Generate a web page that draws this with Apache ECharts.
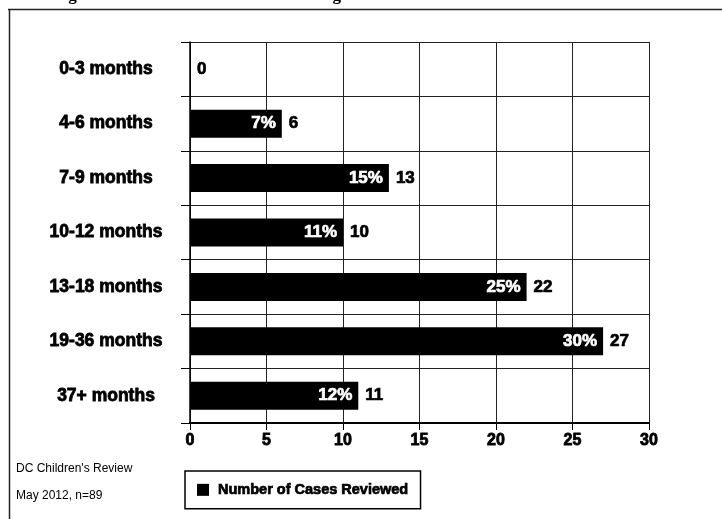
<!DOCTYPE html>
<html lang="en" style="height: 100%">
<head>
  <meta charset="utf-8">
</head>
<body style="height: 100%; margin: 0; background: #fff">
  <div id="container" style="width: 722px; height: 519px"></div>

  <script type="text/javascript" src="https://cdn.jsdelivr.net/npm/echarts@6/dist/echarts.min.js"></script>
  <script type="text/javascript">
    // data
    var categories = ['0-3 months', '4-6 months', '7-9 months', '10-12 months', '13-18 months', '19-36 months', '37+ months'];
    var cases = [0, 6, 13, 10, 22, 27, 11];
    var percents = ['', '7%', '15%', '11%', '25%', '30%', '12%'];
    var xTicks = [0, 5, 10, 15, 20, 25, 30];

    var dom = document.getElementById('container');
    var myChart = echarts.init(dom, null, { renderer: 'canvas' });

    var boldFont = 'Liberation Sans';

    var option = {
      backgroundColor: '#fff',
      animation: false,
      grid: { left: 190, right: 73, top: 42, bottom: 96 },
      legend: {
        data: ['Number of Cases Reviewed'],
        left: 185, top: 471,
        padding: [11, 12, 11, 12],
        itemWidth: 12, itemHeight: 12, itemGap: 10,
        icon: 'rect',
        borderColor: '#000', borderWidth: 1.5,
        textStyle: {
          fontFamily: boldFont, fontWeight: 'bold', fontSize: 14.5, color: '#000',
          textBorderColor: '#000', textBorderWidth: 0.7, padding: [0, 0, 0, 4]
        }
      },
      xAxis: {
        type: 'value',
        min: xTicks[0], max: xTicks[xTicks.length - 1], interval: 5,
        axisLine: { show: true, lineStyle: { color: '#000', width: 2 } },
        axisTick: { show: true, length: 7, lineStyle: { color: '#000' } },
        axisLabel: {
          fontFamily: boldFont, fontWeight: 'bold', fontSize: 16, color: '#000', margin: 10,
          textBorderColor: '#000', textBorderWidth: 0.8
        },
        splitLine: { show: true, lineStyle: { color: '#222', width: 1 } }
      },
      yAxis: {
        type: 'category',
        data: categories,
        inverse: true,
        axisLine: { show: true, lineStyle: { color: '#000', width: 1.5 } },
        axisTick: { show: true, length: 9, lineStyle: { color: '#000' } },
        axisLabel: {
          fontFamily: boldFont, fontWeight: 'bold', fontSize: 17.5, color: '#000',
          textBorderColor: '#000', textBorderWidth: 0.8,
          width: 170, align: 'center', margin: 84
        },
        splitLine: { show: true, lineStyle: { color: '#222', width: 1 } }
      },
      series: [
        {
          name: 'Number of Cases Reviewed',
          type: 'bar',
          data: cases,
          barWidth: 28,
          itemStyle: { color: '#000' },
          label: {
            show: true, position: 'insideRight', distance: 6,
            color: '#fff', fontFamily: boldFont, fontWeight: 'bold', fontSize: 17,
            textBorderColor: '#fff', textBorderWidth: 0.7,
            formatter: function (p) { return percents[p.dataIndex]; }
          }
        },
        {
          name: 'values',
          type: 'bar',
          data: cases,
          barWidth: 28,
          barGap: '-100%',
          itemStyle: { color: 'rgba(0,0,0,0)' },
          label: {
            show: true, position: 'right', distance: 7,
            color: '#000', fontFamily: boldFont, fontWeight: 'bold', fontSize: 17,
            textBorderColor: '#000', textBorderWidth: 0.7,
            formatter: function (p) { return p.value; }
          },
          silent: true
        }
      ],
      graphic: [
        { type: 'line', shape: { x1: 8, y1: 9.5, x2: 722, y2: 9.5 }, style: { stroke: '#222', lineWidth: 1.5 } },
        { type: 'line', shape: { x1: 9.5, y1: 9, x2: 9.5, y2: 519 }, style: { stroke: '#222', lineWidth: 1.5 } },
        {
          type: 'text', left: 40, top: -13,
          style: { text: 'Length of Time in Care Prior to Discharge', font: 'bold 17px "Liberation Serif"', fill: '#000' }
        },
        {
          type: 'text', left: 16, top: 463,
          style: { text: "DC Children's Review", font: '12px "Liberation Sans"', fill: '#000' }
        },
        {
          type: 'text', left: 16, top: 490,
          style: { text: 'May 2012, n=89', font: '12px "Liberation Sans"', fill: '#000' }
        }
      ]
    };

    myChart.setOption(option);

    window.addEventListener('resize', function() {
      myChart.resize();
    });
  </script>
</body>
</html>
